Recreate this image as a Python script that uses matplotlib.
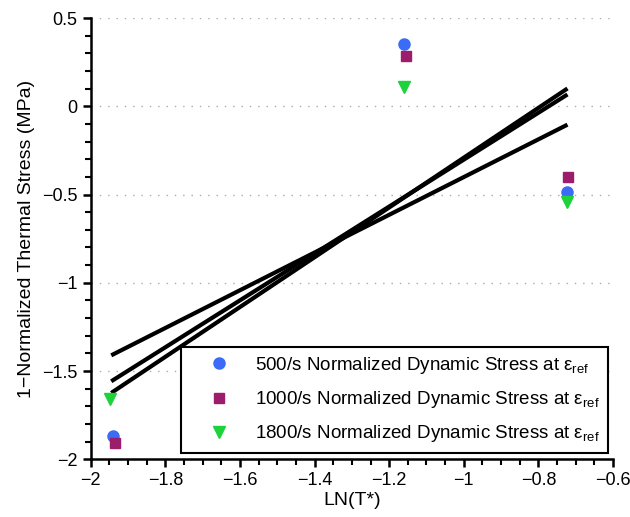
import numpy as np
import matplotlib
matplotlib.use("Agg")
import matplotlib.pyplot as plt
from matplotlib.ticker import MultipleLocator

plt.rcParams['font.family'] = ['Liberation Sans', 'DejaVu Sans']
plt.rcParams['mathtext.fontset'] = 'custom'
plt.rcParams['mathtext.rm'] = 'Liberation Sans'
plt.rcParams['mathtext.it'] = 'Liberation Sans:italic'

# data
x_500 = [-1.94, -1.16, -0.722]
y_500 = [-1.868, 0.351, -0.488]
x_1000 = [-1.935, -1.155, -0.72]
y_1000 = [-1.908, 0.285, -0.403]
x_1800 = [-1.947, -1.16, -0.722]
y_1800 = [-1.656, 0.11, -0.541]

# fitted lines (endpoints)
fit_x = [-1.945, -0.722]
fit_500 = [-1.624, 0.101]
fit_1000 = [-1.558, 0.067]
fit_1800 = [-1.411, -0.104]

labels = [r'500/s Normalized Dynamic Stress at ε$_{\mathrm{ref}}$',
          r'1000/s Normalized Dynamic Stress at ε$_{\mathrm{ref}}$',
          r'1800/s Normalized Dynamic Stress at ε$_{\mathrm{ref}}$']

fig = plt.figure(figsize=(6.3, 5.17), dpi=100)
ax = fig.add_axes([0.144, 0.1116, 0.829, 0.8535])

for fy in (fit_500, fit_1000, fit_1800):
    ax.plot(fit_x, fy, color='black', lw=3, solid_capstyle='butt', zorder=2)

ax.plot(x_500, y_500, 'o', color='#3b6cf6', ms=8, ls='none', label=labels[0], zorder=3)
ax.plot(x_1000, y_1000, 's', color='#9c1d6c', ms=6.5, ls='none', label=labels[1], zorder=3)
ax.plot(x_1800, y_1800, 'v', color='#1ed23c', ms=9, ls='none', label=labels[2], zorder=3)

ax.set_xlim(-2, -0.6)
ax.set_ylim(-2, 0.5)
ax.xaxis.set_major_locator(MultipleLocator(0.2))
ax.xaxis.set_minor_locator(MultipleLocator(0.05))
ax.yaxis.set_major_locator(MultipleLocator(0.5))
ax.yaxis.set_minor_locator(MultipleLocator(0.1))
fmt = plt.FuncFormatter(lambda v, p: ('%g' % round(v, 2)).replace('-', '\u2212'))
ax.xaxis.set_major_formatter(fmt)
ax.yaxis.set_major_formatter(fmt)

for s in ('top', 'right'):
    ax.spines[s].set_visible(False)
for s in ('left', 'bottom'):
    ax.spines[s].set_linewidth(1.8)
ax.tick_params(which='major', length=6, width=1.8, labelsize=13, direction='out')
ax.tick_params(which='minor', length=4, width=1.5, direction='out')
ax.yaxis.grid(True, which='major', ls=(0, (1, 5)), color='#aaaaaa', lw=1)
ax.set_axisbelow(True)

ax.set_xlabel('LN(T*)', fontsize=14, labelpad=2)
ax.set_ylabel('1\u2212Normalized Thermal Stress (MPa)', fontsize=14, labelpad=5)

leg = ax.legend(loc='lower right', bbox_to_anchor=(0.99, 0.015), fontsize=13.5,
                fancybox=False, framealpha=1, edgecolor='black', borderpad=0.45,
                handletextpad=0.3, labelspacing=0.7, handlelength=3.15,
                borderaxespad=0)
leg.get_frame().set_linewidth(1.5)

fig.savefig('out.png', dpi=100)
